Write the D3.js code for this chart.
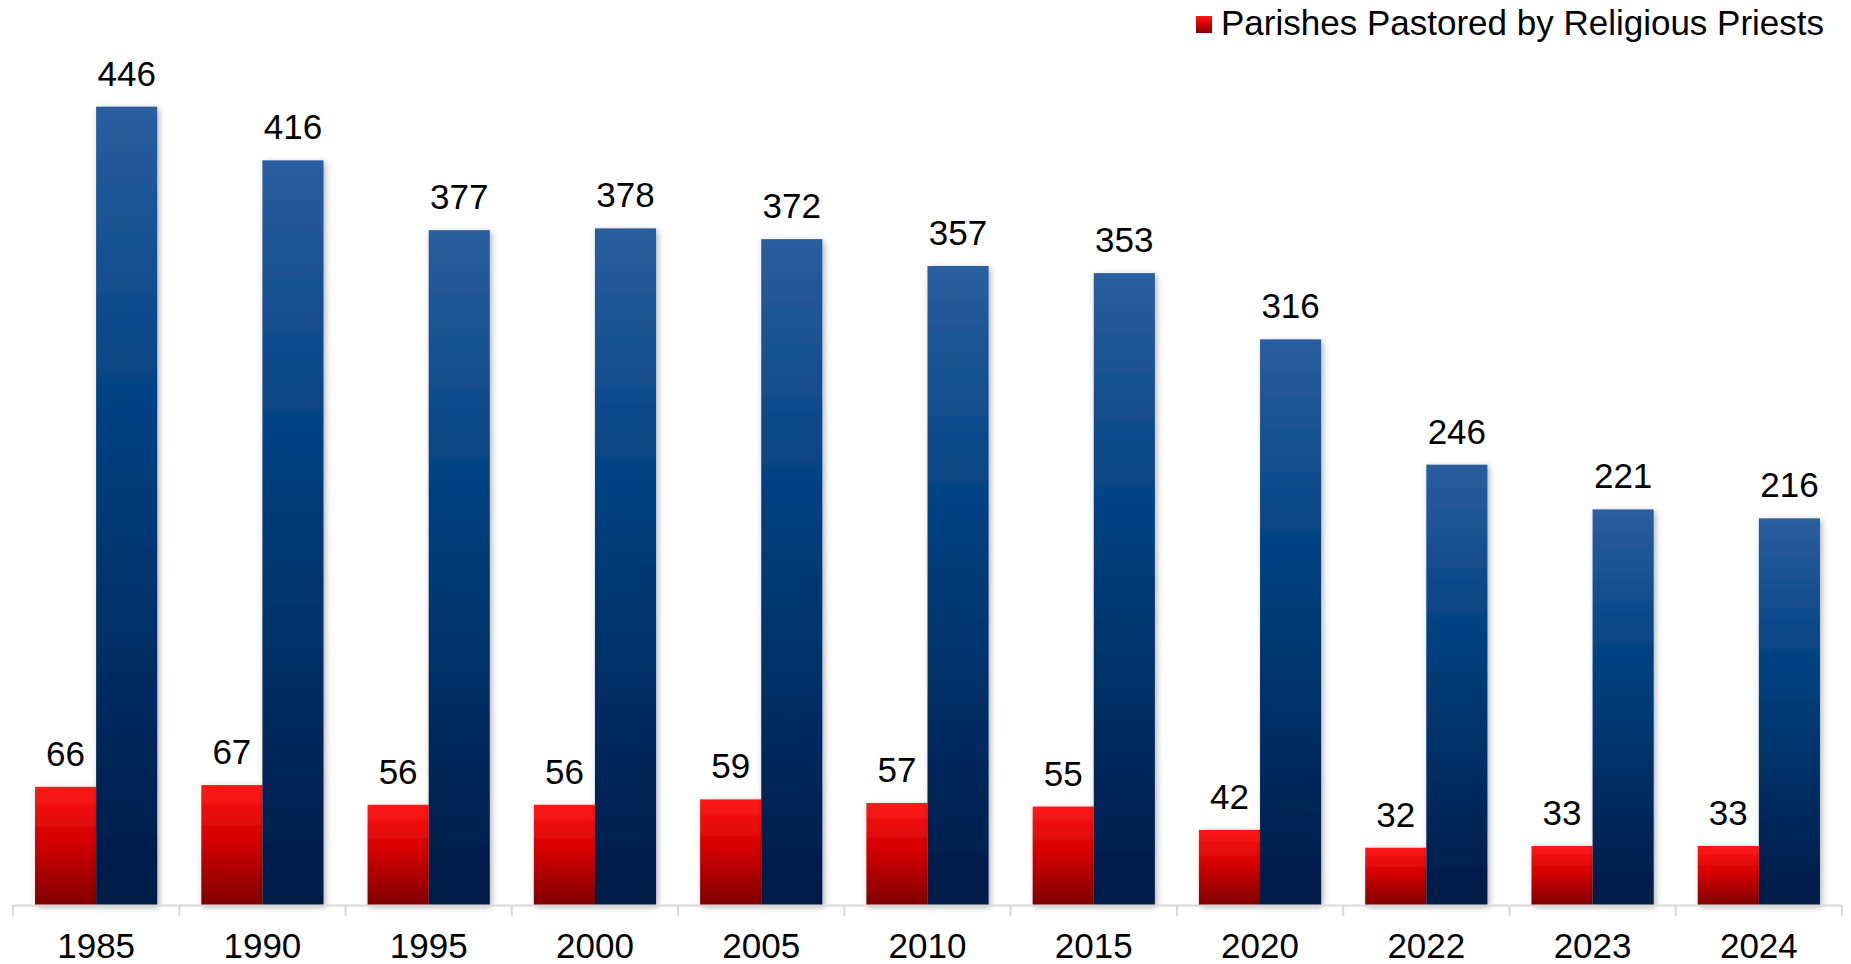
<!DOCTYPE html>
<head>
    <meta charset="UTF-8">
    <script src="https://cdn.jsdelivr.net/npm/d3@7"></script>
<style>
body {
  margin: 0;
  background: #fff;
}
svg {
  display: block;
  font-family: "Liberation Sans", Arial, sans-serif;
}
.label {
  font-size: 35px;
  fill: #000;
  text-anchor: middle;
}
.tick text {
  font-size: 35px;
  fill: #000;
}
</style>
</head>
<body>
<script>

var years     = ["1985", "1990", "1995", "2000", "2005", "2010", "2015", "2020", "2022", "2023", "2024"];
var religious = [66, 67, 56, 56, 59, 57, 55, 42, 32, 33, 33];
var total     = [446, 416, 377, 378, 372, 357, 353, 316, 246, 221, 216];
var legendLabel = "Parishes Pastored by Religious Priests";

var width  = 1851,
    height = 964;

var svg = d3.select("body").append("svg")
    .attr("width", width)
    .attr("height", height);

var defs = svg.append("defs");

var blue = defs.append("linearGradient")
    .attr("id", "blue").attr("x1", 0).attr("y1", 0).attr("x2", 0).attr("y2", 1);
blue.append("stop").attr("offset", "0%").attr("stop-color", "#2a5e9f");
blue.append("stop").attr("offset", "40%").attr("stop-color", "#00407f");
blue.append("stop").attr("offset", "100%").attr("stop-color", "#001a47");

var red = defs.append("linearGradient")
    .attr("id", "red").attr("x1", 0).attr("y1", 0).attr("x2", 0).attr("y2", 1);
red.append("stop").attr("offset", "0%").attr("stop-color", "#ff1a1a");
red.append("stop").attr("offset", "45%").attr("stop-color", "#d60000");
red.append("stop").attr("offset", "100%").attr("stop-color", "#7f0000");

defs.append("filter")
    .attr("id", "shadow")
    .attr("x", "-30%").attr("y", "-10%").attr("width", "160%").attr("height", "120%")
  .append("feDropShadow")
    .attr("dx", 2).attr("dy", 2)
    .attr("stdDeviation", 3)
    .attr("flood-color", "#000")
    .attr("flood-opacity", 0.3);

var x = d3.scaleBand()
    .domain(years)
    .range([13, 1842])
    .paddingInner(0.265)
    .paddingOuter(0.1325);

var y = d3.scaleLinear()
    .domain([0, 500])
    .range([905, 10]);

var half = x.bandwidth() / 2;

var bars = svg.append("g");

// red bars first, blue drawn on top so the shadow sits right
bars.selectAll(".red")
    .data(years)
  .enter().append("rect")
    .attr("x", d => x(d))
    .attr("y", (d, i) => y(religious[i]))
    .attr("width", half)
    .attr("height", (d, i) => y(0) - y(religious[i]))
    .attr("fill", "url(#red)")
    .attr("filter", "url(#shadow)");

bars.selectAll(".blue")
    .data(years)
  .enter().append("rect")
    .attr("x", d => x(d) + half)
    .attr("y", (d, i) => y(total[i]))
    .attr("width", half)
    .attr("height", (d, i) => y(0) - y(total[i]))
    .attr("fill", "url(#blue)")
    .attr("filter", "url(#shadow)");

// axis line and ticks at band edges
var axis = svg.append("g");
axis.append("line")
    .attr("x1", 13).attr("x2", 1842)
    .attr("y1", y(0) + 0.5).attr("y2", y(0) + 0.5)
    .attr("stroke", "#d9d9d9").attr("stroke-width", 2);

axis.selectAll(".edge")
    .data(d3.range(years.length + 1))
  .enter().append("line")
    .attr("x1", i => 13 + i * x.step())
    .attr("x2", i => 13 + i * x.step())
    .attr("y1", y(0))
    .attr("y2", y(0) + 11)
    .attr("stroke", "#d9d9d9").attr("stroke-width", 2);

svg.append("g")
    .attr("transform", "translate(0," + y(0) + ")")
    .call(d3.axisBottom(x).tickSize(0).tickPadding(28))
    .call(g => g.select(".domain").remove())
    .selectAll("text")
    .attr("font-family", "Liberation Sans, Arial, sans-serif");

// value labels
svg.selectAll(".lr")
    .data(years)
  .enter().append("text")
    .attr("class", "label")
    .attr("x", d => x(d) + half / 2)
    .attr("y", (d, i) => y(religious[i]) - 21)
    .text((d, i) => religious[i]);

svg.selectAll(".lb")
    .data(years)
  .enter().append("text")
    .attr("class", "label")
    .attr("x", d => x(d) + half * 1.5)
    .attr("y", (d, i) => y(total[i]) - 21)
    .text((d, i) => total[i]);

// legend
var legend = svg.append("g");
legend.append("rect")
    .attr("x", 1196).attr("y", 16)
    .attr("width", 16).attr("height", 17)
    .attr("fill", "url(#red)");
legend.append("text")
    .attr("x", 1221).attr("y", 35)
    .attr("font-size", 35)
    .text(legendLabel);

</script>
</body>
